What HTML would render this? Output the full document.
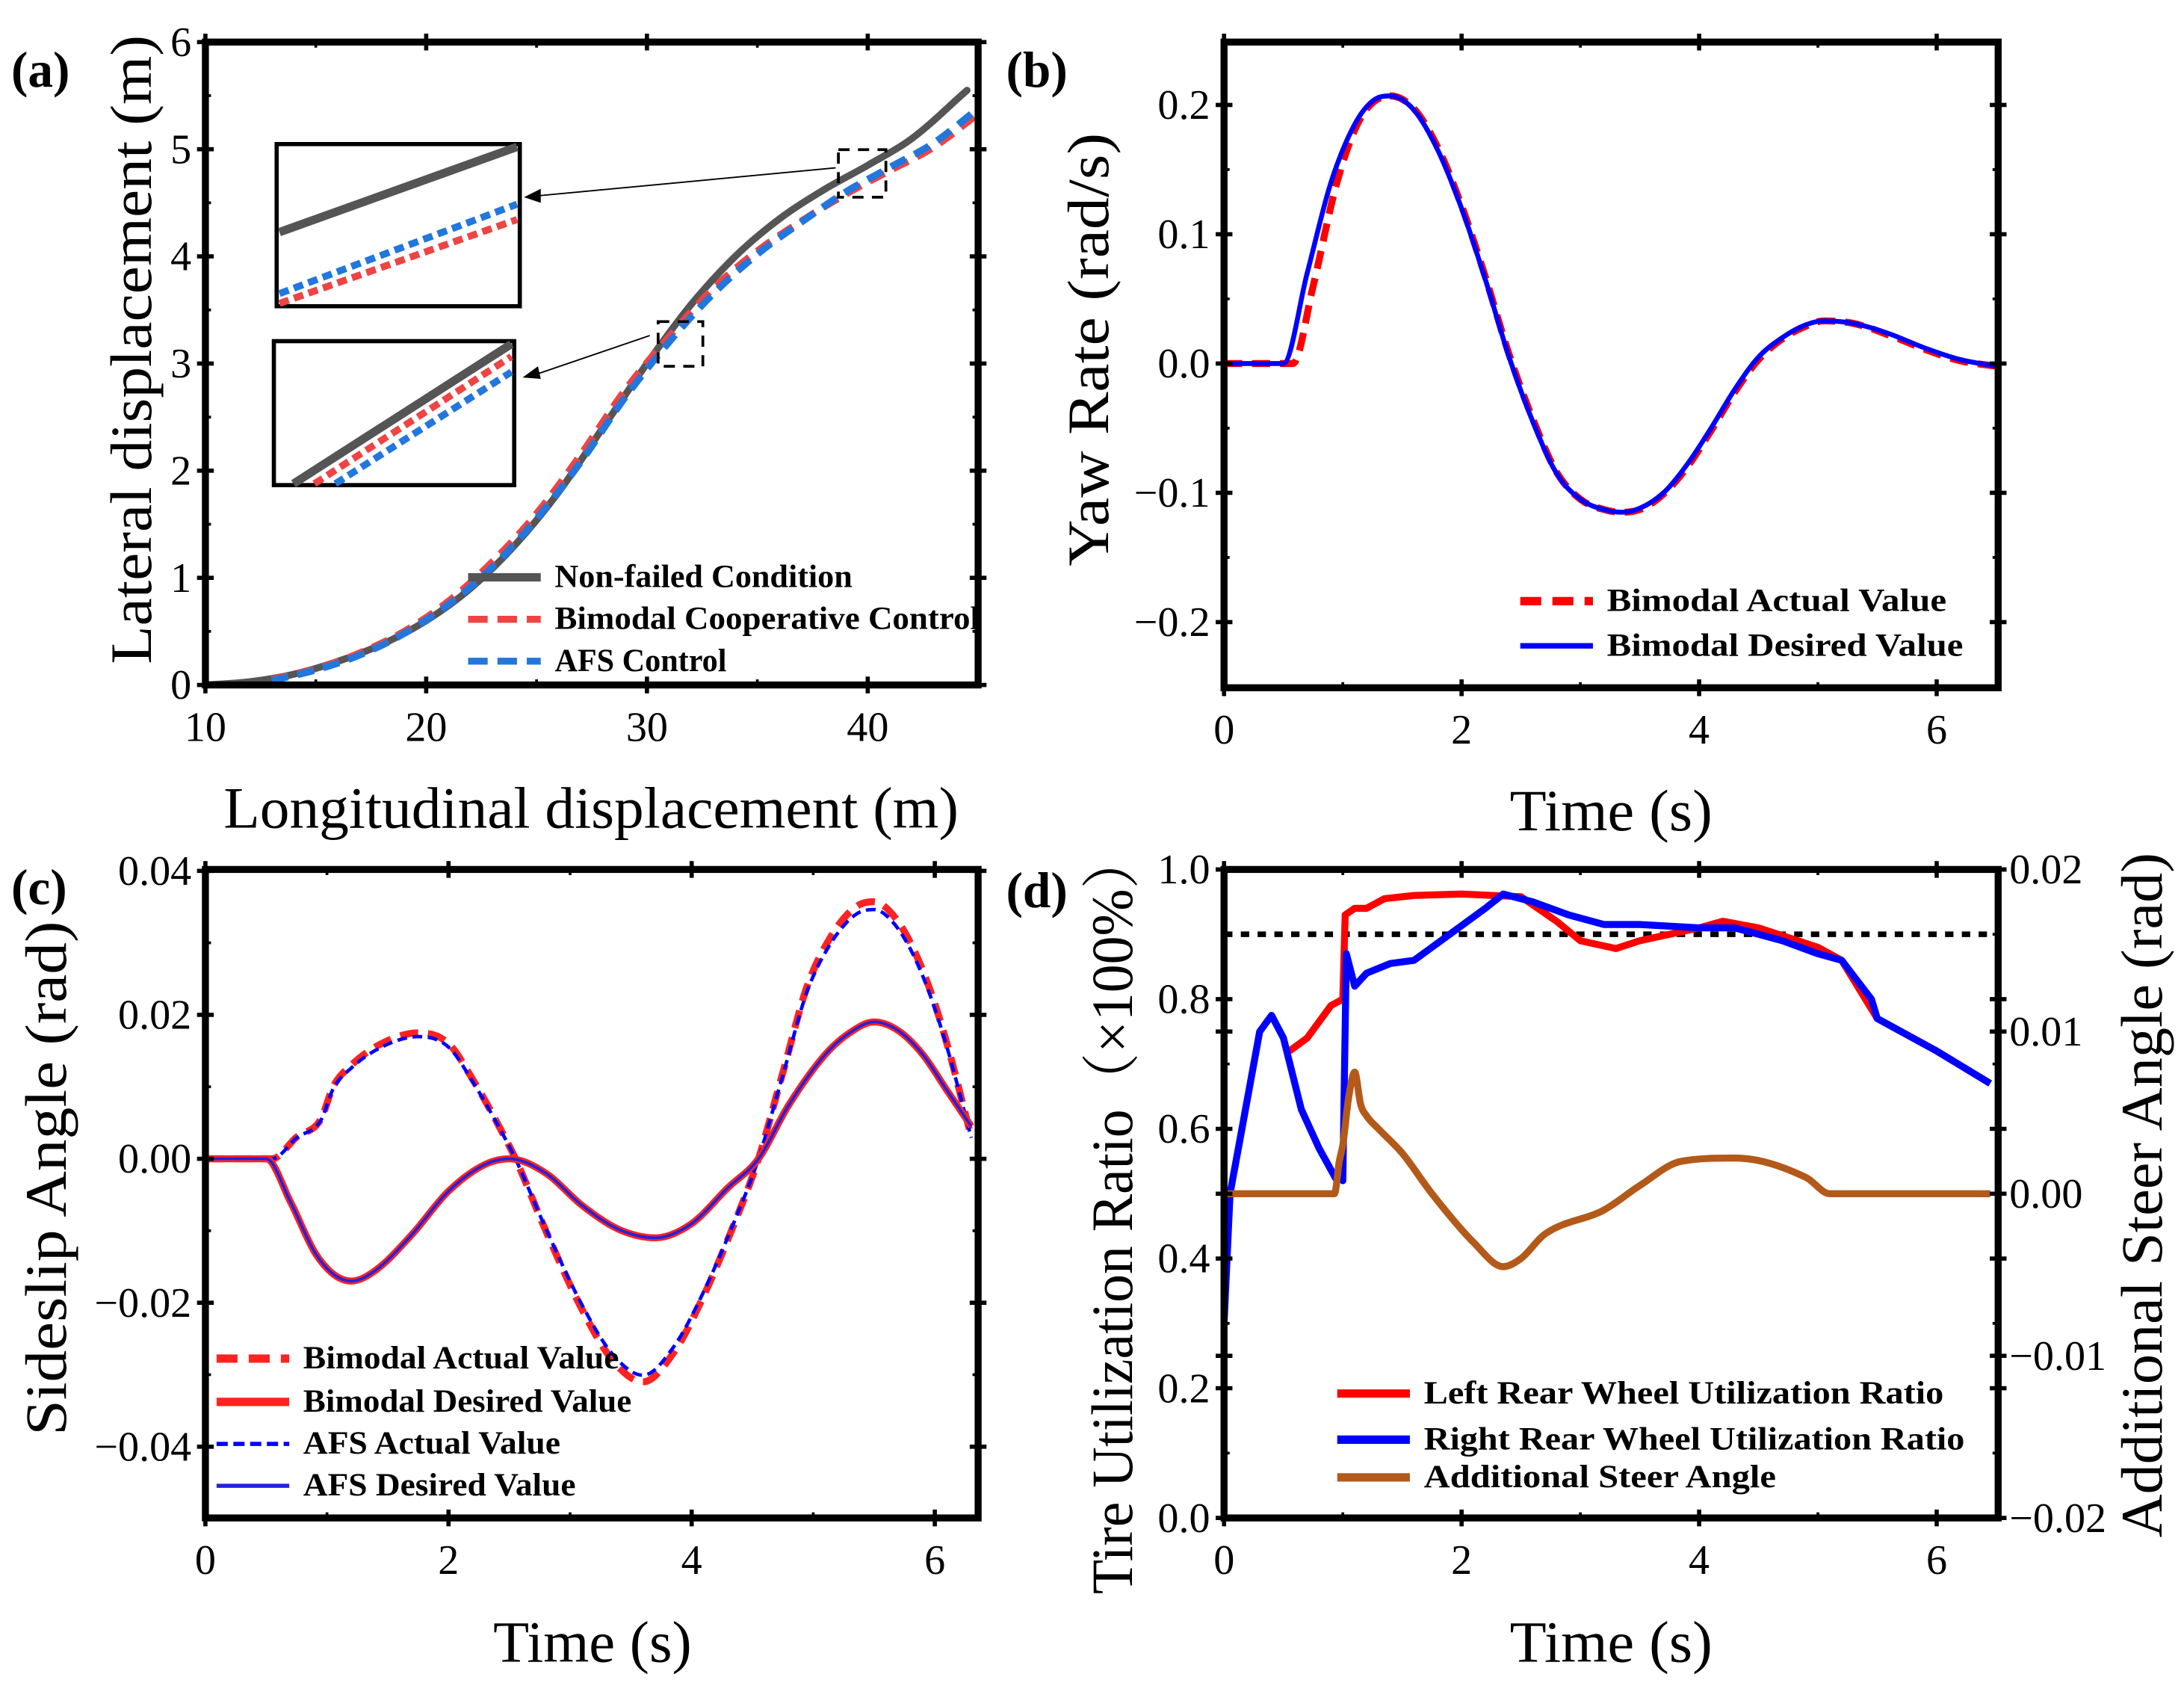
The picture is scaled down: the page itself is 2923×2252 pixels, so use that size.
<!DOCTYPE html>
<html><head><meta charset="utf-8">
<style>
html,body{margin:0;padding:0;background:#fff;}
svg{display:block;}
text{font-family:"Liberation Serif","Noto Serif CJK SC",serif;fill:#000;}
.tick{font-size:30px;}
.title{font-size:42px;}
.leg{font-size:23px;font-weight:bold;}
.plab{font-size:36px;font-weight:bold;}
</style></head>
<body>
<svg id="fig" width="2923" height="2252" viewBox="0 0 1563 1204" xmlns="http://www.w3.org/2000/svg"></svg>
<script>
// ---------- data ----------
const aX_nf=[10,12,14,16,18,20,22,24,26,28,30,32,34,36,38,40,42,44.5];
const aY_nf=[0,0.03,0.1,0.22,0.38,0.6,0.9,1.3,1.8,2.4,3.0,3.55,4.0,4.35,4.62,4.85,5.1,5.55];
const aX_bi=[13,15,17,19,21,23,25,27,29,31,33,35,37,39,41,43,45];
const aY_bi=[0.05,0.15,0.3,0.5,0.78,1.15,1.6,2.15,2.75,3.25,3.7,4.05,4.33,4.58,4.8,5.02,5.33];
const aY_afs=[0.04,0.14,0.28,0.48,0.75,1.1,1.55,2.08,2.68,3.2,3.65,4.02,4.32,4.6,4.83,5.06,5.38];

const bT_des=[0,0.5,0.7,0.9,1.1,1.25,1.4,1.6,1.8,2.0,2.2,2.4,2.6,2.8,3.0,3.2,3.35,3.5,3.7,3.9,4.1,4.3,4.5,4.7,4.9,5.05,5.3,5.6,5.9,6.2,6.5];
const bY_des=[0,0,0.07,0.14,0.185,0.203,0.207,0.196,0.165,0.12,0.065,0.005,-0.045,-0.085,-0.105,-0.113,-0.115,-0.112,-0.1,-0.078,-0.05,-0.02,0.005,0.02,0.03,0.033,0.031,0.023,0.012,0.003,-0.002];
const bT_act=[0,0.58,0.75,0.95,1.15,1.4,1.6,1.8,2.0,2.2,2.4,2.6,2.8,3.0,3.2,3.35,3.5,3.7,3.9,4.1,4.3,4.5,4.7,4.9,5.05,5.3,5.6,5.9,6.2,6.5];
const bY_act=[0,0,0.06,0.14,0.19,0.207,0.197,0.167,0.122,0.067,0.007,-0.043,-0.084,-0.105,-0.113,-0.115,-0.113,-0.101,-0.08,-0.052,-0.022,0.003,0.019,0.029,0.033,0.031,0.022,0.011,0.002,-0.002];

const cT_des=[0,0.5,0.7,0.9,1.05,1.2,1.4,1.7,2.0,2.3,2.5,2.8,3.1,3.4,3.7,4.0,4.3,4.55,4.8,5.1,5.3,5.5,5.7,5.9,6.1,6.3];
const cY_des=[0,0,-0.006,-0.013,-0.016,-0.017,-0.0155,-0.0105,-0.0045,-0.0008,0,-0.002,-0.0065,-0.0098,-0.011,-0.009,-0.004,0,0.0075,0.0145,0.0175,0.019,0.0178,0.0145,0.0095,0.0045];
const cT_act=[0,0.55,0.75,0.95,1.05,1.2,1.45,1.75,2.0,2.2,2.4,2.55,2.8,3.1,3.35,3.6,3.85,4.1,4.35,4.55,4.75,4.95,5.15,5.35,5.5,5.65,5.8,5.95,6.1,6.3];
const cY_act=[0,0,0.003,0.0055,0.01,0.013,0.016,0.0175,0.016,0.011,0.005,0,-0.01,-0.021,-0.028,-0.031,-0.027,-0.019,-0.009,0,0.012,0.024,0.031,0.035,0.0357,0.034,0.03,0.024,0.016,0.003];

const dT_left=[0.55,0.7,0.9,1.0,1.02,1.1,1.2,1.35,1.6,2.0,2.5,2.8,3.0,3.3,3.5,4.0,4.2,4.5,5.0,5.2,5.5,6.0,6.45];
const dY_left=[0.72,0.74,0.79,0.8,0.93,0.94,0.94,0.955,0.96,0.962,0.958,0.92,0.89,0.878,0.89,0.91,0.92,0.91,0.88,0.86,0.77,0.72,0.67];
const dT_right=[0,0.05,0.15,0.3,0.4,0.5,0.65,0.8,0.95,0.97,1.0,1.03,1.1,1.2,1.4,1.6,1.9,2.2,2.35,2.6,2.9,3.2,3.5,4.0,4.3,4.7,5.0,5.2,5.45,5.5,6.0,6.45];
const dY_right=[0.3,0.5,0.6,0.75,0.775,0.74,0.63,0.57,0.52,0.55,0.52,0.87,0.82,0.84,0.855,0.86,0.9,0.94,0.962,0.95,0.93,0.915,0.915,0.91,0.91,0.89,0.87,0.86,0.8,0.77,0.72,0.67];
const dT_steer=[0,0.93,0.97,1.0,1.05,1.1,1.15,1.2,1.3,1.5,1.75,2.1,2.35,2.5,2.7,3.2,3.5,3.85,4.3,4.9,5.1,6.45];
const dY_steer=[0,0,0.002,0.003,0.006,0.0075,0.0055,0.0048,0.004,0.0025,0,-0.003,-0.0045,-0.004,-0.0025,-0.001,0.0005,0.002,0.0022,0.001,0,0];
const dRef=[0.9];

const ticksA_x=[10,20,30,40], ticksA_y=[0,1,2,3,4,5,6];
const ticksB_x=[0,2,4,6], ticksB_y=[0.2,0.1,0.0,-0.1,-0.2], ticksB_lab=["0.2","0.1","0.0","\u22120.1","\u22120.2"];
const ticksC_x=[0,2,4,6], ticksC_y=[0.04,0.02,0,-0.02,-0.04], ticksC_lab=["0.04","0.02","0.00","\u22120.02","\u22120.04"];
const ticksD_y=[0,0.2,0.4,0.6,0.8,1.0], ticksD_lab=["0.0","0.2","0.4","0.6","0.8","1.0"];
const ticksD_r=[0.02,0.01,0,-0.01,-0.02], ticksD_rlab=["0.02","0.01","0.00","\u22120.01","\u22120.02"];

// ---------- helpers ----------
const NS="http://www.w3.org/2000/svg";
const fig=document.getElementById('fig');
function el(tag,attrs,parent){const e=document.createElementNS(NS,tag);for(const k in attrs)e.setAttribute(k,attrs[k]);(parent||fig).appendChild(e);return e;}
function lin(d0,d1,r0,r1){return v=>r0+(v-d0)*(r1-r0)/(d1-d0);}
function path(xs,ys,sx,sy){return xs.map((x,i)=>(i?'L':'M')+sx(x).toFixed(1)+','+sy(ys[i]).toFixed(1)).join(' ');}
// monotone cubic (Fritsch-Carlson) in screen space
function smooth(xs,ys,sx,sy){
  const X=xs.map(sx),Y=ys.map(sy),n=X.length;
  const d=[],m=new Array(n);
  for(let i=0;i<n-1;i++)d.push((Y[i+1]-Y[i])/(X[i+1]-X[i]));
  m[0]=d[0];m[n-1]=d[n-2];
  for(let i=1;i<n-1;i++){m[i]=(d[i-1]*d[i]<=0)?0:(d[i-1]+d[i])/2;}
  for(let i=0;i<n-1;i++){
    if(d[i]===0){m[i]=0;m[i+1]=0;continue;}
    const a=m[i]/d[i],b=m[i+1]/d[i],s=a*a+b*b;
    if(s>9){const t=3/Math.sqrt(s);m[i]=t*a*d[i];m[i+1]=t*b*d[i];}
  }
  let p='M'+X[0].toFixed(1)+','+Y[0].toFixed(1);
  for(let i=0;i<n-1;i++){const h=(X[i+1]-X[i])/3;
    p+=' C'+(X[i]+h).toFixed(1)+','+(Y[i]+m[i]*h).toFixed(1)+' '+(X[i+1]-h).toFixed(1)+','+(Y[i+1]-m[i+1]*h).toFixed(1)+' '+X[i+1].toFixed(1)+','+Y[i+1].toFixed(1);}
  return p;
}
function txt(s,x,y,cls,anchor,parent,rot,len){const t=el('text',{x:x,y:y,class:cls,'text-anchor':anchor||'middle'},parent);if(rot)t.setAttribute('transform','rotate(-90 '+x+' '+y+')');if(len){t.setAttribute('textLength',len);t.setAttribute('lengthAdjust','spacingAndGlyphs');}t.textContent=s;return t;}
function frame(g,x0,y0,x1,y1){el('rect',{x:x0,y:y0,width:x1-x0,height:y1-y0,fill:'none',stroke:'#000','stroke-width':5},g);}
function xTicks(g,vals,labs,sx,y0,y1,minorStep,lo,hi){
  vals.forEach((v,i)=>{const x=sx(v);el('line',{x1:x,x2:x,y1:y1-6,y2:y1+6,stroke:'#000','stroke-width':3},g);el('line',{x1:x,x2:x,y1:y0-6,y2:y0+6,stroke:'#000','stroke-width':3},g);
    const t=txt(labs[i],x,y1+40,'tick','middle',g);});
  for(let v=lo;v<=hi+1e-9;v+=minorStep){const x=sx(v);el('line',{x1:x,x2:x,y1:y1-4,y2:y1,stroke:'#000','stroke-width':2},g);el('line',{x1:x,x2:x,y1:y0,y2:y0+4,stroke:'#000','stroke-width':2},g);}
}
function yTicks(g,vals,labs,sy,x0,x1,side){
  vals.forEach((v,i)=>{const y=sy(v);el('line',{x1:x0-6,x2:x0+6,y1:y,y2:y,stroke:'#000','stroke-width':3},g);el('line',{x1:x1-6,x2:x1+6,y1:y,y2:y,stroke:'#000','stroke-width':3},g);
    if(labs){const t=side==='r'?txt(labs[i],x1+8,y+10,'tick','start',g):txt(labs[i],x0-10,y+10,'tick','end',g);}});
}
function minorY(g,vals,sy,x0,x1){vals.forEach(v=>{const y=sy(v);el('line',{x1:x0,x2:x0+4,y1:y,y2:y,stroke:'#000','stroke-width':2},g);el('line',{x1:x1-4,x2:x1,y1:y,y2:y,stroke:'#000','stroke-width':2},g);});}
function legend(g,x,y,color,dash,w,label,len){
  const l=el('line',{x1:x,x2:x+52,y1:y-7,y2:y-7,stroke:color,'stroke-width':w},g);
  if(dash)l.setAttribute('stroke-dasharray',dash);
  
  
  const t=txt(label,x+62,y,'leg','start',g,false,len);
  
  
}

// ---------- panel (a) ----------
{
const g=el('g',{});


const sx=lin(10,45,147,700), sy=lin(0,6,490,30);
const cp=el('clipPath',{id:'ca'},g);el('rect',{x:147,y:30,width:553,height:460},cp);
const pg=el('g',{'clip-path':'url(#ca)'},g);
const p1=el('path',{d:smooth(aX_nf,aY_nf,sx,sy),fill:'none',stroke:'#555','stroke-width':5,'stroke-linecap':'round'},pg);


const p2=el('path',{d:smooth(aX_bi,aY_bi,sx,sy),fill:'none',stroke:'#ee4444','stroke-width':5,'stroke-dasharray':'12,7'},pg);


const p3=el('path',{d:smooth(aX_bi,aY_afs,sx,sy),fill:'none',stroke:'#2277dd','stroke-width':5,'stroke-dasharray':'12,7'},pg);


frame(g,147,30,700,490);
xTicks(g,ticksA_x,ticksA_x.map(String),sx,30,490,5,10,45);
yTicks(g,ticksA_y,ticksA_y.map(String),sy,147,700);
minorY(g,[0.5,1.5,2.5,3.5,4.5,5.5],sy,147,700);
el('rect',{x:600,y:107,width:34,height:34,fill:'none',stroke:'#000','stroke-width':2,'stroke-dasharray':'8,6'},g);
el('rect',{x:471,y:230,width:32,height:32,fill:'none',stroke:'#000','stroke-width':2,'stroke-dasharray':'8,6'},g);
el('line',{x1:598,y1:120,x2:385,y2:140,stroke:'#000','stroke-width':1},g);
el('path',{d:'M375,141 l12,-6 l0,10 z',fill:'#000'},g);
el('line',{x1:465,y1:240,x2:383,y2:268,stroke:'#000','stroke-width':1},g);
el('path',{d:'M374,270 l11,-8 l2,9 z',fill:'#000'},g);
const i1=el('g',{},g);


el('rect',{x:198,y:103,width:174,height:116,fill:'#fff',stroke:'#000','stroke-width':3},i1);
el('line',{x1:200,y1:166,x2:370,y2:105,stroke:'#555','stroke-width':6},i1);
el('line',{x1:200,y1:210,x2:370,y2:146,stroke:'#2277dd','stroke-width':5,'stroke-dasharray':'7,4'},i1);
el('line',{x1:200,y1:217,x2:370,y2:157,stroke:'#ee4444','stroke-width':5,'stroke-dasharray':'7,4'},i1);
const i2=el('g',{},g);


el('rect',{x:196,y:244,width:172,height:103,fill:'#fff',stroke:'#000','stroke-width':3},i2);
el('line',{x1:210,y1:346,x2:366,y2:246,stroke:'#555','stroke-width':6},i2);
el('line',{x1:225,y1:346,x2:366,y2:255,stroke:'#ee4444','stroke-width':5,'stroke-dasharray':'7,4'},i2);
el('line',{x1:240,y1:346,x2:366,y2:266,stroke:'#2277dd','stroke-width':5,'stroke-dasharray':'7,4'},i2);
legend(g,335,420,'#555',null,6,'Non-failed Condition',213);
legend(g,335,450,'#ee4444','14,7',5,'Bimodal  Cooperative Control',304);
legend(g,335,480,'#2277dd','14,7',5,'AFS Control',123);
const t1=txt('Lateral displacement (m)',108,250,'title','middle',g,true,450);


const t2=txt('Longitudinal displacement (m)',423,592,'title','middle',g,false,526);


const pl=txt('(a)',8,62,'plab','start',g);


}

// ---------- panel (b) ----------
{
const g=el('g',{});


const sx=lin(0,6,876,1386), sy=lin(0,0.1,260,167.5);
const p1=el('path',{d:smooth(bT_act,bY_act,sx,sy),fill:'none',stroke:'#ff0000','stroke-width':5,'stroke-dasharray':'13,7'},g);


const p2=el('path',{d:smooth(bT_des,bY_des,sx,sy),fill:'none',stroke:'#0000ff','stroke-width':3.5},g);


frame(g,876,30,1430,492);
xTicks(g,ticksB_x,ticksB_x.map(String),sx,30,492,1,0,6.5);
yTicks(g,ticksB_y,ticksB_lab,sy,876,1430);
minorY(g,[0.15,0.05,-0.05,-0.15],sy,876,1430);
legend(g,1088,437,'#ff0000','15,8',6,'Bimodal Actual Value',243);
legend(g,1088,469,'#0000ff',null,4,'Bimodal Desired Value',255);
const t1=txt('Yaw Rate (rad/s)',793,250,'title','middle',g,true,310);


const t2=txt('Time (s)',1153,594,'title','middle',g,false,145);


const pl=txt('(b)',720,62,'plab','start',g);


}

// ---------- panel (c) ----------
{
const g=el('g',{});


const sx=lin(0,6,147,669), sy=lin(0,0.02,829,726);
const p1=el('path',{d:smooth(cT_act,cY_act,sx,sy),fill:'none',stroke:'#ff2222','stroke-width':5,'stroke-dasharray':'13,7'},g);


const p2=el('path',{d:smooth(cT_act,cY_act.map(v=>v*0.97),sx,sy),fill:'none',stroke:'#0000ff','stroke-width':2.5,'stroke-dasharray':'7,4'},g);


const p3=el('path',{d:smooth(cT_des,cY_des,sx,sy),fill:'none',stroke:'#ff2222','stroke-width':5},g);


const p4=el('path',{d:smooth(cT_des,cY_des,sx,sy),fill:'none',stroke:'#2222dd','stroke-width':2},g);


frame(g,147,622,700,1086);
xTicks(g,ticksC_x,ticksC_x.map(String),sx,622,1086,1,0,6.3);
yTicks(g,ticksC_y,ticksC_lab,sy,147,700);
minorY(g,[0.03,0.01,-0.01,-0.03],sy,147,700);
legend(g,155,979,'#ff2222','15,8',6,'Bimodal Actual Value',226);
legend(g,155,1010,'#ff2222',null,6,'Bimodal Desired Value',235);
legend(g,155,1040,'#0000ff','8,4',3,'AFS Actual Value',184);
legend(g,155,1070,'#2222dd',null,3,'AFS Desired Value',195);
const t1=txt('Sideslip Angle (rad)',47,843,'title','middle',g,true,368);


const t2=txt('Time (s)',424,1189,'title','middle',g,false,142);


const pl=txt('(c)',8,647,'plab','start',g);


}

// ---------- panel (d) ----------
{
const g=el('g',{});


const sx=lin(0,6,876,1386), sy=lin(0,1,1086,622), sr=lin(-0.02,0.02,1086,622);
const r=el('line',{x1:876,x2:1430,y1:sy(dRef[0]),y2:sy(dRef[0]),stroke:'#000','stroke-width':4,'stroke-dasharray':'6,6'},g);


const p1=el('path',{d:path(dT_left,dY_left,sx,sy),fill:'none',stroke:'#ff0000','stroke-width':5,'stroke-linejoin':'round'},g);


const p2=el('path',{d:path(dT_right,dY_right,sx,sy),fill:'none',stroke:'#0000ff','stroke-width':5,'stroke-linejoin':'round'},g);


const p3=el('path',{d:smooth(dT_steer,dY_steer,sx,sr),fill:'none',stroke:'#b35a1a','stroke-width':5},g);


frame(g,876,622,1430,1086);
xTicks(g,ticksB_x,ticksB_x.map(String),sx,622,1086,1,0,6.5);
yTicks(g,ticksD_y,ticksD_lab,sy,876,1430);
yTicks(g,ticksD_r,ticksD_rlab,sr,876,1430,'r');
minorY(g,[0.1,0.3,0.5,0.7,0.9],sy,876,1430);
legend(g,957,1004,'#ff0000',null,6,'Left Rear Wheel Utilization Ratio',372);
legend(g,957,1037,'#0000ff',null,6,'Right Rear Wheel Utilization Ratio',387);
legend(g,957,1064,'#b35a1a',null,6,'Additional Steer Angle',252);
const t1=txt('Tire Utilization Ratio\uFF08\u00D7100%\uFF09',810,868,'title','middle',g,true,545);


const t3=txt('Additional Steer Angle (rad)',1547,855,'title','middle',g,true,490);


const t2=txt('Time (s)',1153,1189,'title','middle',g,false,145);


const pl=txt('(d)',720,649,'plab','start',g);


}
</script>
</body></html>
